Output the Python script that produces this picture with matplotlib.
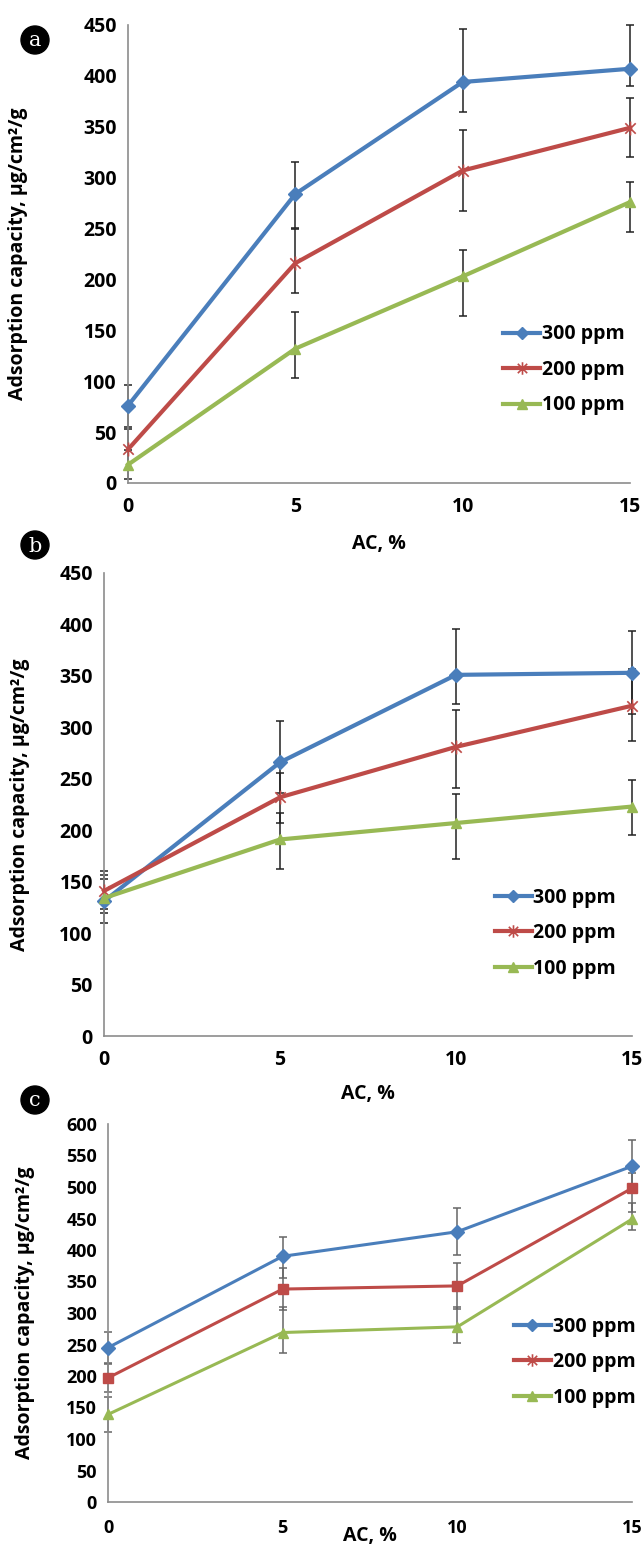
import matplotlib.pyplot as plt
from matplotlib.lines import Line2D
from matplotlib.patches import Circle
from matplotlib.path import Path

plt.rcParams['font.family'] = ['Open Sans', 'DejaVu Sans']
plt.rcParams['font.weight'] = 'bold'

# AC loading, %
ac = [0, 5, 10, 15]
labels = ['300 ppm', '200 ppm', '100 ppm']
colors = ['#4a7ebb', '#be4b48', '#98b954']

# panel a (values, upper error, lower error)
a_300 = [76, 284, 394, 407]
a_200 = [33, 216, 307, 349]
a_100 = [18, 132, 203, 276]
a_300_hi = [20, 31, 52, 43]
a_300_lo = [21, 33, 29, 17]
a_200_hi = [20, 34, 40, 29]
a_200_lo = [20, 29, 40, 29]
a_100_hi = [14, 36, 26, 20]
a_100_lo = [14, 29, 39, 29]

# panel b
b_300 = [131, 266, 351, 353]
b_200 = [141, 232, 281, 321]
b_100 = [134, 191, 207, 223]
b_300_hi = [25, 40, 45, 41]
b_300_lo = [21, 30, 28, 40]
b_200_hi = [19, 24, 36, 36]
b_200_lo = [18, 25, 40, 34]
b_100_hi = [19, 26, 28, 26]
b_100_lo = [14, 29, 35, 28]

# panel c
c_300 = [245, 390, 429, 533]
c_200 = [197, 338, 343, 498]
c_100 = [139, 269, 278, 449]
c_300_hi = [25, 31, 37, 42]
c_300_lo = [25, 34, 37, 42]
c_200_hi = [22, 34, 37, 25]
c_200_lo = [22, 33, 37, 37]
c_100_hi = [28, 41, 32, 25]
c_100_lo = [28, 33, 26, 17]

W, H = 644, 1552
fig = plt.figure(figsize=(W / 100, H / 100), dpi=100)

# Excel-like star marker: an x with a vertical stroke
STAR = Path([(0, -1), (0, 1), (-0.75, -0.75), (0.75, 0.75), (-0.75, 0.75), (0.75, -0.75)],
            [Path.MOVETO, Path.LINETO] * 3)


def px_rect(left, top, right, bottom):
    return [left / W, 1 - bottom / H, (right - left) / W, (bottom - top) / H]


def draw_panel(rect, series, errs, ymax, letter, letter_xy, lw, markers,
               ecolor, legend_anchor, ylab_x, xlab_pad, tick_fs):
    ax = fig.add_axes(rect)
    for y, (hi, lo), c, m in zip(series, errs, colors, markers):
        ax.errorbar(ac, y, yerr=[lo, hi], fmt='none', ecolor=ecolor, elinewidth=1.1,
                    capsize=3, capthick=1.1, clip_on=False, zorder=2)
        if m is STAR:
            ax.plot(ac, y, color=c, lw=lw, marker=m, ms=10, mew=1.2,
                    clip_on=False, zorder=3)
        else:
            ax.plot(ac, y, color=c, lw=lw, marker=m, ms=7, clip_on=False, zorder=3)
    ax.set_xlim(0, 15)
    ax.set_ylim(0, ymax)
    ax.set_xticks(ac)
    ax.set_yticks(range(0, ymax + 1, 50))
    for s in ['top', 'right']:
        ax.spines[s].set_visible(False)
    for s in ['left', 'bottom']:
        ax.spines[s].set_color('#8c8c8c')
        ax.spines[s].set_linewidth(1.2)
    ax.tick_params(length=0, labelsize=tick_fs, pad=8)
    ax.tick_params(axis='x', pad=xlab_pad[0])
    ax.set_xlabel('AC, %', fontsize=14, fontweight='bold', labelpad=xlab_pad[1])
    fig.text(ylab_x, rect[1] + rect[3] / 2, 'Adsorption capacity, μg/cm²/g',
             rotation=90, ha='center', va='center', fontsize=14, fontweight='bold')

    # legend: 200 ppm always shown with the star marker
    handles = [
        Line2D([], [], color=colors[0], lw=3, marker='D', ms=6),
        Line2D([], [], color=colors[1], lw=3, marker=STAR, ms=9, mew=1.2),
        Line2D([], [], color=colors[2], lw=3, marker='^', ms=7),
    ]
    ax.legend(handles, labels, loc='center left', bbox_to_anchor=legend_anchor,
              frameon=False, fontsize=14, handlelength=1.9, handletextpad=0.1,
              labelspacing=0.8, borderaxespad=0)

    fx, fy = letter_xy
    fig.patches.append(Circle((fx / 100, (H - fy) / 100), 0.14,
                              transform=fig.dpi_scale_trans, color='black'))
    fig.text(fx / W, 1 - (fy + 1) / H, letter, color='white', ha='center', va='center',
             fontsize=15, family='DejaVu Serif', fontweight='normal')
    return ax


draw_panel(px_rect(128, 25, 630, 483), [a_300, a_200, a_100],
           [(a_300_hi, a_300_lo), (a_200_hi, a_200_lo), (a_100_hi, a_100_lo)],
           450, 'a', (35, 40), 3, ['D', STAR, '^'], '#222222',
           (0.732, 0.247), 18 / W, (10, 12), 14)

draw_panel(px_rect(104, 573, 632, 1036), [b_300, b_200, b_100],
           [(b_300_hi, b_300_lo), (b_200_hi, b_200_lo), (b_100_hi, b_100_lo)],
           450, 'b', (35, 545), 3, ['D', STAR, '^'], '#222222',
           (0.725, 0.222), 20 / W, (10, 10), 14)

draw_panel(px_rect(108, 1124, 632, 1502), [c_300, c_200, c_100],
           [(c_300_hi, c_300_lo), (c_200_hi, c_200_lo), (c_100_hi, c_100_lo)],
           600, 'c', (35, 1100), 2.2, ['D', 's', '^'], '#666666',
           (0.76, 0.37), 25 / W, (12, -8), 13)

fig.savefig('out.png', dpi=100)
